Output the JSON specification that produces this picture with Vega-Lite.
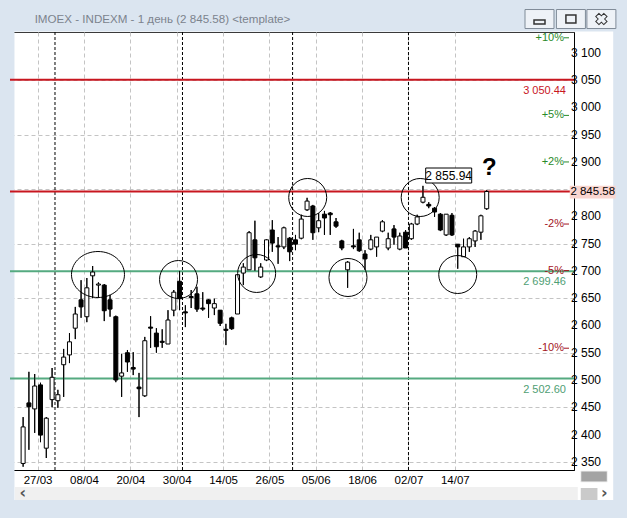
{
  "$schema": "https://vega.github.io/schema/vega-lite/v6.json",
  "width": 564,
  "height": 438,
  "autosize": {"type": "none"},
  "padding": {"left": 10, "top": 32, "right": 53, "bottom": 48},
  "background": "#ffffff",
  "config": {"view": {"stroke": "#3a3a3a", "fill": "#ffffff"}, "font": "Liberation Sans", "axis": {"labelOverlap": false}},
  "datasets": {
    "candles": [
      {"k":0,"o":2347,"h":2432,"l":2341,"c":2414},
      {"k":1,"o":2458,"h":2515,"l":2372,"c":2451},
      {"k":2,"o":2447,"h":2511,"l":2403,"c":2489},
      {"k":3,"o":2491,"h":2495,"l":2386,"c":2399},
      {"k":4,"o":2375,"h":2432,"l":2357,"c":2430},
      {"k":5,"o":2464,"h":2522,"l":2450,"c":2505},
      {"k":6,"o":2462,"h":2482,"l":2449,"c":2473},
      {"k":7,"o":2528,"h":2557,"l":2469,"c":2542},
      {"k":8,"o":2546,"h":2586,"l":2531,"c":2570},
      {"k":9,"o":2595,"h":2634,"l":2575,"c":2621},
      {"k":10,"o":2647,"h":2683,"l":2614,"c":2634},
      {"k":11,"o":2616,"h":2687,"l":2606,"c":2669},
      {"k":12,"o":2691,"h":2709,"l":2650,"c":2698},
      {"k":13,"o":2674,"h":2679,"l":2652,"c":2676},
      {"k":14,"o":2674,"h":2676,"l":2608,"c":2627},
      {"k":15,"o":2647,"h":2656,"l":2616,"c":2630},
      {"k":16,"o":2616,"h":2618,"l":2496,"c":2500},
      {"k":17,"o":2507,"h":2548,"l":2469,"c":2513},
      {"k":18,"o":2550,"h":2555,"l":2515,"c":2533},
      {"k":19,"o":2523,"h":2551,"l":2509,"c":2520},
      {"k":20,"o":2487,"h":2513,"l":2432,"c":2484},
      {"k":21,"o":2471,"h":2579,"l":2469,"c":2572},
      {"k":22,"o":2597,"h":2617,"l":2559,"c":2595},
      {"k":23,"o":2586,"h":2595,"l":2550,"c":2561},
      {"k":24,"o":2571,"h":2593,"l":2559,"c":2569},
      {"k":25,"o":2566,"h":2628,"l":2566,"c":2610},
      {"k":26,"o":2628,"h":2665,"l":2617,"c":2661},
      {"k":27,"o":2681,"h":2700,"l":2628,"c":2649},
      {"k":28,"o":2625,"h":2637,"l":2597,"c":2623},
      {"k":29,"o":2653,"h":2665,"l":2632,"c":2651},
      {"k":30,"o":2658,"h":2671,"l":2625,"c":2630},
      {"k":31,"o":2632,"h":2661,"l":2627,"c":2630},
      {"k":32,"o":2647,"h":2648,"l":2614,"c":2640},
      {"k":33,"o":2632,"h":2649,"l":2619,"c":2640},
      {"k":34,"o":2628,"h":2628,"l":2599,"c":2604},
      {"k":35,"o":2593,"h":2603,"l":2564,"c":2591},
      {"k":36,"o":2614,"h":2616,"l":2592,"c":2594},
      {"k":37,"o":2621,"h":2693,"l":2621,"c":2693},
      {"k":38,"o":2696,"h":2714,"l":2674,"c":2707},
      {"k":39,"o":2702,"h":2773,"l":2702,"c":2770},
      {"k":40,"o":2757,"h":2792,"l":2700,"c":2724},
      {"k":41,"o":2689,"h":2714,"l":2687,"c":2707},
      {"k":42,"o":2720,"h":2758,"l":2718,"c":2757},
      {"k":43,"o":2775,"h":2793,"l":2735,"c":2751},
      {"k":44,"o":2746,"h":2762,"l":2713,"c":2744},
      {"k":45,"o":2744,"h":2781,"l":2740,"c":2779},
      {"k":46,"o":2760,"h":2762,"l":2718,"c":2735},
      {"k":47,"o":2757,"h":2766,"l":2738,"c":2749},
      {"k":48,"o":2760,"h":2803,"l":2758,"c":2795},
      {"k":49,"o":2812,"h":2834,"l":2810,"c":2828},
      {"k":50,"o":2819,"h":2821,"l":2757,"c":2770},
      {"k":51,"o":2779,"h":2806,"l":2771,"c":2792},
      {"k":52,"o":2804,"h":2810,"l":2766,"c":2797},
      {"k":53,"o":2806,"h":2808,"l":2766,"c":2803},
      {"k":54,"o":2790,"h":2797,"l":2779,"c":2782},
      {"k":55,"o":2755,"h":2757,"l":2738,"c":2742},
      {"k":56,"o":2702,"h":2718,"l":2669,"c":2716},
      {"k":57,"o":2746,"h":2777,"l":2740,"c":2744},
      {"k":58,"o":2757,"h":2770,"l":2735,"c":2737},
      {"k":59,"o":2731,"h":2738,"l":2702,"c":2722},
      {"k":60,"o":2740,"h":2766,"l":2738,"c":2757},
      {"k":61,"o":2744,"h":2762,"l":2726,"c":2762},
      {"k":62,"o":2773,"h":2793,"l":2771,"c":2790},
      {"k":63,"o":2742,"h":2770,"l":2738,"c":2759},
      {"k":64,"o":2777,"h":2784,"l":2748,"c":2762},
      {"k":65,"o":2740,"h":2770,"l":2738,"c":2764},
      {"k":66,"o":2771,"h":2775,"l":2742,"c":2742},
      {"k":67,"o":2759,"h":2788,"l":2757,"c":2786},
      {"k":68,"o":2786,"h":2803,"l":2784,"c":2799},
      {"k":69,"o":2826,"h":2855.94,"l":2824,"c":2835},
      {"k":70,"o":2822,"h":2826,"l":2815,"c":2819},
      {"k":71,"o":2815,"h":2817,"l":2799,"c":2808},
      {"k":72,"o":2804,"h":2806,"l":2773,"c":2775},
      {"k":73,"o":2766,"h":2804,"l":2764,"c":2804},
      {"k":74,"o":2802,"h":2806,"l":2764,"c":2766},
      {"k":75,"o":2749,"h":2749,"l":2704,"c":2744},
      {"k":76,"o":2726,"h":2759,"l":2726,"c":2744},
      {"k":77,"o":2744,"h":2762,"l":2735,"c":2759},
      {"k":78,"o":2755,"h":2775,"l":2744,"c":2773},
      {"k":79,"o":2771,"h":2803,"l":2757,"c":2801},
      {"k":80,"o":2814,"h":2848,"l":2812,"c":2845.58}
    ],
    "levels": [
      {"p":3050.44,"t":"3 050.44","kind":"resistance"},
      {"p":2845.58,"t":"","kind":"resistance"},
      {"p":2699.46,"t":"2 699.46","kind":"support"},
      {"p":2502.60,"t":"2 502.60","kind":"support"}
    ],
    "pct": [
      {"p":3130.14,"t":"+10%","s":"up"},
      {"p":2987.86,"t":"+5%","s":"up"},
      {"p":2902.49,"t":"+2%","s":"up"},
      {"p":2788.67,"t":"-2%","s":"down"},
      {"p":2703.30,"t":"-5%","s":"down"},
      {"p":2561.02,"t":"-10%","s":"down"}
    ],
    "ylabels": [
      {"v":2350,"t":"2 350"},{"v":2400,"t":"2 400"},{"v":2450,"t":"2 450"},{"v":2500,"t":"2 500"},
      {"v":2550,"t":"2 550"},{"v":2600,"t":"2 600"},{"v":2650,"t":"2 650"},{"v":2700,"t":"2 700"},
      {"v":2750,"t":"2 750"},{"v":2800,"t":"2 800"},{"v":2900,"t":"2 900"},{"v":2950,"t":"2 950"},
      {"v":3000,"t":"3 000"},{"v":3050,"t":"3 050"},{"v":3100,"t":"3 100"}
    ],
    "months": [{"k":5.5},{"k":27.5},{"k":46.5},{"k":66.5}],
    "circles": [
      {"k":26.82,"p":2684.2},
      {"k":40.30,"p":2695.3},
      {"k":49.11,"p":2834.6},
      {"k":56.06,"p":2687.9},
      {"k":68.52,"p":2834.6},
      {"k":75.0,"p":2693.4}
    ],
    "bigcircle": [{"k":12.92,"p":2693.4}]
  },
  "layer": [
    {
      "data": {"values": [{}]},
      "mark": {"type": "rect", "color": "#dbe5f0"},
      "encoding": {
        "x": {"datum": -5, "type": "quantitative", "title": null, "scale": {"domain": [-1.4, 94.2], "nice": false, "zero": false}},
        "x2": {"datum": 110},
        "y": {"datum": 3139, "type": "quantitative", "title": null, "scale": {"domain": [2335, 3138], "nice": false, "zero": false}},
        "y2": {"datum": 3200}
      }
    },
    {
      "data": {"values": [{}]},
      "mark": {"type": "rect", "color": "#dbe5f0"},
      "encoding": {
        "x": {"datum": -5, "type": "quantitative", "title": null, "scale": {"domain": [-1.4, 94.2], "nice": false, "zero": false}},
        "x2": {"datum": -1.49},
        "y": {"datum": 2240, "type": "quantitative", "title": null, "scale": {"domain": [2335, 3138], "nice": false, "zero": false}},
        "y2": {"datum": 3200}
      }
    },
    {
      "data": {"values": [{}]},
      "mark": {"type": "rect", "color": "#dbe5f0"},
      "encoding": {
        "x": {"datum": 101.83, "type": "quantitative", "title": null, "scale": {"domain": [-1.4, 94.2], "nice": false, "zero": false}},
        "x2": {"datum": 110},
        "y": {"datum": 2240, "type": "quantitative", "title": null, "scale": {"domain": [2335, 3138], "nice": false, "zero": false}},
        "y2": {"datum": 3200}
      }
    },
    {
      "data": {"values": [{}]},
      "mark": {"type": "rect", "color": "#dbe5f0"},
      "encoding": {
        "x": {"datum": -5, "type": "quantitative", "title": null, "scale": {"domain": [-1.4, 94.2], "nice": false, "zero": false}},
        "x2": {"datum": 110},
        "y": {"datum": 2240, "type": "quantitative", "title": null, "scale": {"domain": [2335, 3138], "nice": false, "zero": false}},
        "y2": {"datum": 2280}
      }
    },
    {
      "data": {"values": [{}]},
      "mark": {"type": "rect", "color": "#f0f0f0"},
      "encoding": {
        "x": {"datum": -1.4, "type": "quantitative", "title": null, "scale": {"domain": [-1.4, 94.2], "nice": false, "zero": false}},
        "x2": {"datum": 95.72},
        "y": {"datum": 2280, "type": "quantitative", "title": null, "scale": {"domain": [2335, 3138], "nice": false, "zero": false}},
        "y2": {"datum": 2303.8}
      }
    },
    {
      "data": {"values": [{}]},
      "mark": {"type": "rect", "color": "#a3a3a3", "stroke": "#f4f4f4", "strokeWidth": 1},
      "encoding": {
        "x": {"datum": 96.23, "type": "quantitative", "title": null, "scale": {"domain": [-1.4, 94.2], "nice": false, "zero": false}},
        "x2": {"datum": 100.81},
        "y": {"datum": 2313, "type": "quantitative", "title": null, "scale": {"domain": [2335, 3138], "nice": false, "zero": false}},
        "y2": {"datum": 2333.2}
      }
    },
    {
      "data": {"values": [{}]},
      "mark": {"type": "rect", "color": "#cacaca"},
      "encoding": {
        "x": {"datum": 96.23, "type": "quantitative", "title": null, "scale": {"domain": [-1.4, 94.2], "nice": false, "zero": false}},
        "x2": {"datum": 99.11},
        "y": {"datum": 2280, "type": "quantitative", "title": null, "scale": {"domain": [2335, 3138], "nice": false, "zero": false}},
        "y2": {"datum": 2302}
      }
    },
    {
      "data": {"name": "candles"},
      "mark": {"type": "rule", "color": "#000000", "strokeWidth": 1},
      "encoding": {
        "x": {"field": "k", "type": "quantitative", "title": null, "scale": {"domain": [-1.4, 94.2], "nice": false, "zero": false},
          "axis": {"orient": "bottom", "values": [2.5, 10.5, 18.5, 26.5, 34.5, 42.5, 50.5, 58.5, 66.5, 74.5],
            "labelExpr": "['27/03','08/04','20/04','30/04','14/05','26/05','05/06','18/06','02/07','14/07'][round((datum.value-2.5)/8)]",
            "ticks": false, "labelPadding": 4, "labelFontSize": 11.5, "labelColor": "#000000", "labelFont": "Liberation Sans", "labelOverlap": false,
            "grid": true, "gridColor": "#c4c4c4", "gridDash": [4, 3], "domainColor": "#000000", "title": null}},
        "y": {"field": "l", "type": "quantitative", "title": null, "scale": {"domain": [2335, 3138], "nice": false, "zero": false},
          "axis": {"orient": "right", "values": [2350, 2400, 2450, 2500, 2550, 2600, 2650, 2700, 2750, 2800, 2850, 2900, 2950, 3000, 3050, 3100],
            "labels": false, "ticks": false,
            "grid": true, "gridColor": "#c4c4c4", "gridDash": [4, 3], "domainColor": "#000000", "title": null}},
        "y2": {"field": "h"}
      }
    },
    {
      "data": {"name": "months"},
      "mark": {"type": "rule", "color": "#000000", "strokeWidth": 1, "strokeDash": [3, 2]},
      "encoding": {
        "x": {"field": "k", "type": "quantitative", "title": null, "scale": {"domain": [-1.4, 94.2], "nice": false, "zero": false}}
      }
    },
    {
      "data": {"name": "levels"},
      "mark": {"type": "rule", "strokeWidth": 2},
      "encoding": {
        "y": {"field": "p", "type": "quantitative", "title": null, "scale": {"domain": [2335, 3138], "nice": false, "zero": false}},
        "color": {"condition": {"test": "datum.kind == 'resistance'", "value": "#c8161f"}, "value": "#55aa80"}
      }
    },
    {
      "data": {"name": "candles"},
      "mark": {"type": "rule", "color": "#000000", "strokeWidth": 1},
      "encoding": {
        "x": {"field": "k", "type": "quantitative", "title": null, "scale": {"domain": [-1.4, 94.2], "nice": false, "zero": false}},
        "y": {"field": "l", "type": "quantitative", "title": null, "scale": {"domain": [2335, 3138], "nice": false, "zero": false}},
        "y2": {"field": "h"}
      }
    },
    {
      "data": {"name": "candles"},
      "mark": {"type": "bar", "width": 4, "stroke": "#000000", "strokeWidth": 1, "orient": "vertical"},
      "encoding": {
        "x": {"field": "k", "type": "quantitative", "title": null, "scale": {"domain": [-1.4, 94.2], "nice": false, "zero": false}},
        "y": {"field": "o", "type": "quantitative", "title": null, "scale": {"domain": [2335, 3138], "nice": false, "zero": false}},
        "y2": {"field": "c"},
        "fill": {"condition": {"test": "datum.c >= datum.o", "value": "#ffffff"}, "value": "#000000"}
      }
    },
    {
      "data": {"name": "ylabels"},
      "mark": {"type": "text", "align": "left", "baseline": "middle", "dx": 2, "fontSize": 12, "font": "Liberation Sans", "color": "#000000"},
      "encoding": {
        "x": {"datum": 94.2, "type": "quantitative", "title": null, "scale": {"domain": [-1.4, 94.2], "nice": false, "zero": false}},
        "y": {"field": "v", "type": "quantitative", "title": null, "scale": {"domain": [2335, 3138], "nice": false, "zero": false}},
        "text": {"field": "t"}
      }
    },
    {
      "data": {"name": "levels"},
      "mark": {"type": "text", "align": "right", "baseline": "top", "dx": -3, "dy": 5, "fontSize": 11, "font": "Liberation Sans"},
      "encoding": {
        "x": {"datum": 94.2, "type": "quantitative", "title": null, "scale": {"domain": [-1.4, 94.2], "nice": false, "zero": false}},
        "y": {"field": "p", "type": "quantitative", "title": null, "scale": {"domain": [2335, 3138], "nice": false, "zero": false}},
        "text": {"field": "t"},
        "color": {"condition": {"test": "datum.kind == 'resistance'", "value": "#c8161f"}, "value": "#4f9e74"}
      }
    },
    {
      "data": {"name": "pct"},
      "mark": {"type": "text", "align": "right", "baseline": "middle", "dx": -5, "dy": 1.5, "fontSize": 11, "font": "Liberation Sans"},
      "encoding": {
        "x": {"datum": 94.2, "type": "quantitative", "title": null, "scale": {"domain": [-1.4, 94.2], "nice": false, "zero": false}},
        "y": {"field": "p", "type": "quantitative", "title": null, "scale": {"domain": [2335, 3138], "nice": false, "zero": false}},
        "text": {"field": "t"},
        "color": {"condition": {"test": "datum.s == 'up'", "value": "#2a8a2a"}, "value": "#a3141d"}
      }
    },
    {
      "data": {"name": "pct"},
      "mark": {"type": "point", "shape": "stroke", "size": 25, "xOffset": -2.5, "yOffset": 1.5, "strokeWidth": 1, "filled": false, "opacity": 1},
      "encoding": {
        "x": {"datum": 94.2, "type": "quantitative", "title": null, "scale": {"domain": [-1.4, 94.2], "nice": false, "zero": false}},
        "y": {"field": "p", "type": "quantitative", "title": null, "scale": {"domain": [2335, 3138], "nice": false, "zero": false}},
        "color": {"condition": {"test": "datum.s == 'up'", "value": "#2a8a2a"}, "value": "#a3141d"}
      }
    },
    {
      "data": {"name": "circles"},
      "mark": {"type": "point", "shape": "circle", "size": 1444, "filled": false, "stroke": "#000000", "strokeWidth": 1, "opacity": 1},
      "encoding": {
        "x": {"field": "k", "type": "quantitative", "title": null, "scale": {"domain": [-1.4, 94.2], "nice": false, "zero": false}},
        "y": {"field": "p", "type": "quantitative", "title": null, "scale": {"domain": [2335, 3138], "nice": false, "zero": false}}
      }
    },
    {
      "data": {"name": "bigcircle"},
      "mark": {"type": "point", "shape": "M -1 0 A 1 0.868 0 1 1 1 0 A 1 0.868 0 1 1 -1 0 Z", "size": 2809, "filled": false, "stroke": "#000000", "strokeWidth": 1, "opacity": 1},
      "encoding": {
        "x": {"field": "k", "type": "quantitative", "title": null, "scale": {"domain": [-1.4, 94.2], "nice": false, "zero": false}},
        "y": {"field": "p", "type": "quantitative", "title": null, "scale": {"domain": [2335, 3138], "nice": false, "zero": false}}
      }
    },
    {
      "data": {"values": [{"t": "2 855.94"}]},
      "mark": {"type": "point", "shape": "M -1 -0.326 L 1 -0.326 L 1 0.326 L -1 0.326 Z", "size": 2116, "filled": true, "fill": "#ffffff", "stroke": "#000000", "strokeWidth": 1, "opacity": 1},
      "encoding": {
        "x": {"datum": 73.44, "type": "quantitative", "title": null, "scale": {"domain": [-1.4, 94.2], "nice": false, "zero": false}},
        "y": {"datum": 2874.9, "type": "quantitative", "title": null, "scale": {"domain": [2335, 3138], "nice": false, "zero": false}}
      }
    },
    {
      "data": {"values": [{"t": "2 855.94"}]},
      "mark": {"type": "text", "align": "center", "baseline": "middle", "fontSize": 12, "font": "Liberation Sans", "color": "#000000"},
      "encoding": {
        "x": {"datum": 73.44, "type": "quantitative", "title": null, "scale": {"domain": [-1.4, 94.2], "nice": false, "zero": false}},
        "y": {"datum": 2874.9, "type": "quantitative", "title": null, "scale": {"domain": [2335, 3138], "nice": false, "zero": false}},
        "text": {"field": "t"}
      }
    },
    {
      "data": {"values": [{"t": "?"}]},
      "mark": {"type": "text", "align": "center", "baseline": "middle", "fontSize": 24, "fontWeight": "bold", "font": "Liberation Sans", "color": "#000000"},
      "encoding": {
        "x": {"datum": 80.47, "type": "quantitative", "title": null, "scale": {"domain": [-1.4, 94.2], "nice": false, "zero": false}},
        "y": {"datum": 2888.7, "type": "quantitative", "title": null, "scale": {"domain": [2335, 3138], "nice": false, "zero": false}},
        "text": {"field": "t"}
      }
    },
    {
      "data": {"values": [{"t": "2 845.58"}]},
      "mark": {"type": "point", "shape": "M -1 -0.28 L 1 -0.28 L 1 0.28 L -1 0.28 Z", "size": 2116, "filled": true, "fill": "#f9d6d0", "strokeWidth": 0, "opacity": 1},
      "encoding": {
        "x": {"datum": 98.3, "type": "quantitative", "title": null, "scale": {"domain": [-1.4, 94.2], "nice": false, "zero": false}},
        "y": {"datum": 2844.4, "type": "quantitative", "title": null, "scale": {"domain": [2335, 3138], "nice": false, "zero": false}}
      }
    },
    {
      "data": {"values": [{"t": "2 845.58"}]},
      "mark": {"type": "text", "align": "center", "baseline": "middle", "fontSize": 11.5, "font": "Liberation Sans", "color": "#000000"},
      "encoding": {
        "x": {"datum": 98.3, "type": "quantitative", "title": null, "scale": {"domain": [-1.4, 94.2], "nice": false, "zero": false}},
        "y": {"datum": 2844.4, "type": "quantitative", "title": null, "scale": {"domain": [2335, 3138], "nice": false, "zero": false}},
        "text": {"field": "t"}
      }
    },
    {
      "data": {"values": [{"t": "IMOEX - INDEXM - 1 день (2 845.58) <template>"}]},
      "mark": {"type": "text", "align": "left", "baseline": "middle", "fontSize": 11.6, "font": "Liberation Sans", "color": "#7b838d"},
      "encoding": {
        "x": {"datum": 1.99, "type": "quantitative", "title": null, "scale": {"domain": [-1.4, 94.2], "nice": false, "zero": false}},
        "y": {"datum": 3160, "type": "quantitative", "title": null, "scale": {"domain": [2335, 3138], "nice": false, "zero": false}},
        "text": {"field": "t"}
      }
    },
    {
      "data": {"values": [{"t": "‹"}]},
      "mark": {"type": "text", "align": "center", "baseline": "middle", "fontSize": 16, "fontWeight": "bold", "font": "DejaVu Sans", "color": "#555555"},
      "encoding": {
        "x": {"datum": -0.04, "type": "quantitative", "title": null, "scale": {"domain": [-1.4, 94.2], "nice": false, "zero": false}},
        "y": {"datum": 2292, "type": "quantitative", "title": null, "scale": {"domain": [2335, 3138], "nice": false, "zero": false}},
        "text": {"field": "t"}
      }
    },
    {
      "data": {"values": [{"t": "›"}]},
      "mark": {"type": "text", "align": "center", "baseline": "middle", "fontSize": 16, "fontWeight": "bold", "font": "DejaVu Sans", "color": "#555555"},
      "encoding": {
        "x": {"datum": 100.3, "type": "quantitative", "title": null, "scale": {"domain": [-1.4, 94.2], "nice": false, "zero": false}},
        "y": {"datum": 2292, "type": "quantitative", "title": null, "scale": {"domain": [2335, 3138], "nice": false, "zero": false}},
        "text": {"field": "t"}
      }
    },
    {
      "data": {"values": [{"b": "min"}]},
      "mark": {"type": "point", "shape": "M -1 -0.655 L 1 -0.655 L 1 0.655 L -1 0.655 Z", "size": 841, "filled": true, "fill": "#eef2f7", "stroke": "#7f8b98", "strokeWidth": 1, "opacity": 1},
      "encoding": {
        "x": {"datum": 89.11, "type": "quantitative", "title": null, "scale": {"domain": [-1.4, 94.2], "nice": false, "zero": false}},
        "y": {"datum": 3161.8, "type": "quantitative", "title": null, "scale": {"domain": [2335, 3138], "nice": false, "zero": false}}
      }
    },
    {
      "data": {"values": [{"b": "max"}]},
      "mark": {"type": "point", "shape": "M -1 -0.655 L 1 -0.655 L 1 0.655 L -1 0.655 Z", "size": 841, "filled": true, "fill": "#eef2f7", "stroke": "#7f8b98", "strokeWidth": 1, "opacity": 1},
      "encoding": {
        "x": {"datum": 94.53, "type": "quantitative", "title": null, "scale": {"domain": [-1.4, 94.2], "nice": false, "zero": false}},
        "y": {"datum": 3161.8, "type": "quantitative", "title": null, "scale": {"domain": [2335, 3138], "nice": false, "zero": false}}
      }
    },
    {
      "data": {"values": [{"b": "close"}]},
      "mark": {"type": "point", "shape": "M -1 -0.655 L 1 -0.655 L 1 0.655 L -1 0.655 Z", "size": 841, "filled": true, "fill": "#eef2f7", "stroke": "#7f8b98", "strokeWidth": 1, "opacity": 1},
      "encoding": {
        "x": {"datum": 99.79, "type": "quantitative", "title": null, "scale": {"domain": [-1.4, 94.2], "nice": false, "zero": false}},
        "y": {"datum": 3161.8, "type": "quantitative", "title": null, "scale": {"domain": [2335, 3138], "nice": false, "zero": false}}
      }
    },
    {
      "data": {"values": [{"b": "min"}]},
      "mark": {"type": "point", "shape": "M -1 -0.35 L 1 -0.35 L 1 0.35 L -1 0.35 Z", "size": 121, "filled": false, "stroke": "#333333", "strokeWidth": 1.5, "opacity": 1, "yOffset": 3},
      "encoding": {
        "x": {"datum": 89.11, "type": "quantitative", "title": null, "scale": {"domain": [-1.4, 94.2], "nice": false, "zero": false}},
        "y": {"datum": 3161.8, "type": "quantitative", "title": null, "scale": {"domain": [2335, 3138], "nice": false, "zero": false}}
      }
    },
    {
      "data": {"values": [{"b": "max"}]},
      "mark": {"type": "point", "shape": "M -1 -0.8 L 1 -0.8 L 1 0.8 L -1 0.8 Z", "size": 100, "filled": false, "stroke": "#333333", "strokeWidth": 1.5, "opacity": 1},
      "encoding": {
        "x": {"datum": 94.53, "type": "quantitative", "title": null, "scale": {"domain": [-1.4, 94.2], "nice": false, "zero": false}},
        "y": {"datum": 3161.8, "type": "quantitative", "title": null, "scale": {"domain": [2335, 3138], "nice": false, "zero": false}}
      }
    },
    {
      "data": {"values": [{"b": "close"}]},
      "mark": {"type": "point", "shape": "cross", "angle": 45, "size": 130, "filled": false, "stroke": "#333333", "strokeWidth": 1, "opacity": 1},
      "encoding": {
        "x": {"datum": 99.79, "type": "quantitative", "title": null, "scale": {"domain": [-1.4, 94.2], "nice": false, "zero": false}},
        "y": {"datum": 3161.8, "type": "quantitative", "title": null, "scale": {"domain": [2335, 3138], "nice": false, "zero": false}}
      }
    }
  ]
}
